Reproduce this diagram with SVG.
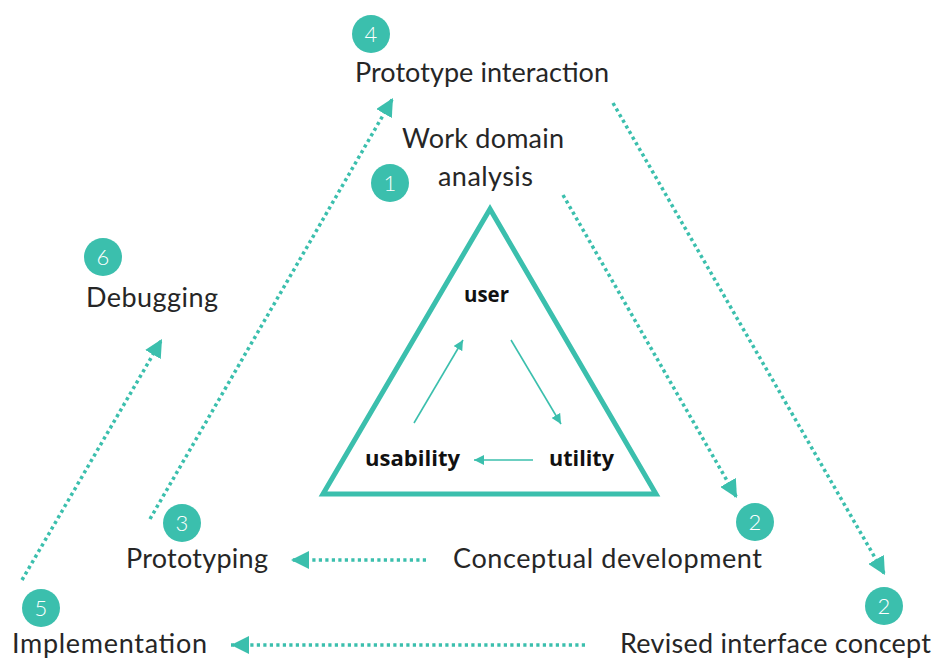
<svg xmlns="http://www.w3.org/2000/svg" width="933" height="661" viewBox="0 0 933 661">
<style>
.lbl{font-family:Lato,"Open Sans","Liberation Sans",sans-serif;font-size:27px;fill:#262626}
.bold{font-family:"Open Sans","Liberation Sans",sans-serif;font-size:21px;font-weight:700;fill:#111}
.num{font-family:Lato,"Liberation Sans",sans-serif;font-size:22px;font-weight:300;fill:#fff;text-anchor:middle}
.badge{fill:#3bbfad}
.dot{fill:none;stroke:#3bbfad;stroke-width:3.5;stroke-dasharray:3.2 3.3;marker-end:url(#ah)}
.thin{fill:none;stroke:#3bbfad;stroke-width:1.6;marker-end:url(#ahs)}
</style>
<defs>
<marker id="ah" viewBox="0 0 18 18" refX="18" refY="9" markerWidth="18" markerHeight="18" markerUnits="userSpaceOnUse" orient="auto"><path d="M0,0 L18,9 L0,18 z" fill="#3bbfad"/></marker>
<marker id="ahs" viewBox="0 0 10 10" refX="10" refY="5" markerWidth="10" markerHeight="10" markerUnits="userSpaceOnUse" orient="auto"><path d="M0,0 L10,5 L0,10 z" fill="#3bbfad"/></marker>
</defs>
<rect width="933" height="661" fill="#fff"/>
<g id="core">
<polygon points="490,209 323,494 656,494" fill="none" stroke="#3bbfad" stroke-width="5" stroke-linejoin="miter"/>
<text class="bold" x="464" y="302" textLength="45" lengthAdjust="spacingAndGlyphs">user</text>
<text class="bold" x="365" y="466" textLength="95" lengthAdjust="spacingAndGlyphs">usability</text>
<text class="bold" x="549" y="466" textLength="65" lengthAdjust="spacingAndGlyphs">utility</text>
</g>
<g id="connectors">
<line class="thin" x1="414" y1="423" x2="463" y2="340"/>
<line class="thin" x1="511" y1="340" x2="561" y2="424"/>
<line class="thin" x1="533" y1="460" x2="474" y2="460"/>
<line class="dot" x1="563" y1="195" x2="737" y2="498"/>
<line class="dot" x1="613" y1="103" x2="885" y2="575"/>
<line class="dot" x1="426" y1="560" x2="291" y2="560"/>
<line class="dot" x1="585" y1="645" x2="231" y2="645"/>
<line class="dot" x1="150" y1="519" x2="393" y2="98"/>
<line class="dot" x1="22" y1="580" x2="162" y2="339"/>
</g>
<g id="n1">
<circle class="badge" cx="390" cy="183" r="19"/>
<text class="num" x="390" y="191">1</text>
<text class="lbl" x="402" y="148" textLength="162" lengthAdjust="spacing">Work domain</text>
<text class="lbl" x="438" y="186" textLength="95" lengthAdjust="spacing">analysis</text>
</g>
<g id="n2a">
<circle class="badge" cx="755" cy="522" r="19"/>
<text class="num" x="755" y="530">2</text>
<text class="lbl" x="453" y="568" textLength="309" lengthAdjust="spacing">Conceptual  development</text>
</g>
<g id="n2b">
<circle class="badge" cx="884" cy="606" r="19"/>
<text class="num" x="884" y="614">2</text>
<text class="lbl" x="620" y="653" textLength="311" lengthAdjust="spacing">Revised  interface concept</text>
</g>
<g id="n3">
<circle class="badge" cx="182" cy="523" r="19"/>
<text class="num" x="182" y="531">3</text>
<text class="lbl" x="126" y="568" textLength="142" lengthAdjust="spacing">Prototyping</text>
</g>
<g id="n4">
<circle class="badge" cx="371" cy="34" r="19"/>
<text class="num" x="371" y="42">4</text>
<text class="lbl" x="355" y="82" textLength="254" lengthAdjust="spacing">Prototype interaction</text>
</g>
<g id="n5">
<circle class="badge" cx="41" cy="608" r="19"/>
<text class="num" x="41" y="616">5</text>
<text class="lbl" x="12" y="653" textLength="195" lengthAdjust="spacing">Implementation</text>
</g>
<g id="n6">
<circle class="badge" cx="103" cy="257" r="19"/>
<text class="num" x="103" y="265">6</text>
<text class="lbl" x="86" y="307" textLength="132" lengthAdjust="spacing">Debugging</text>
</g>
</svg>
